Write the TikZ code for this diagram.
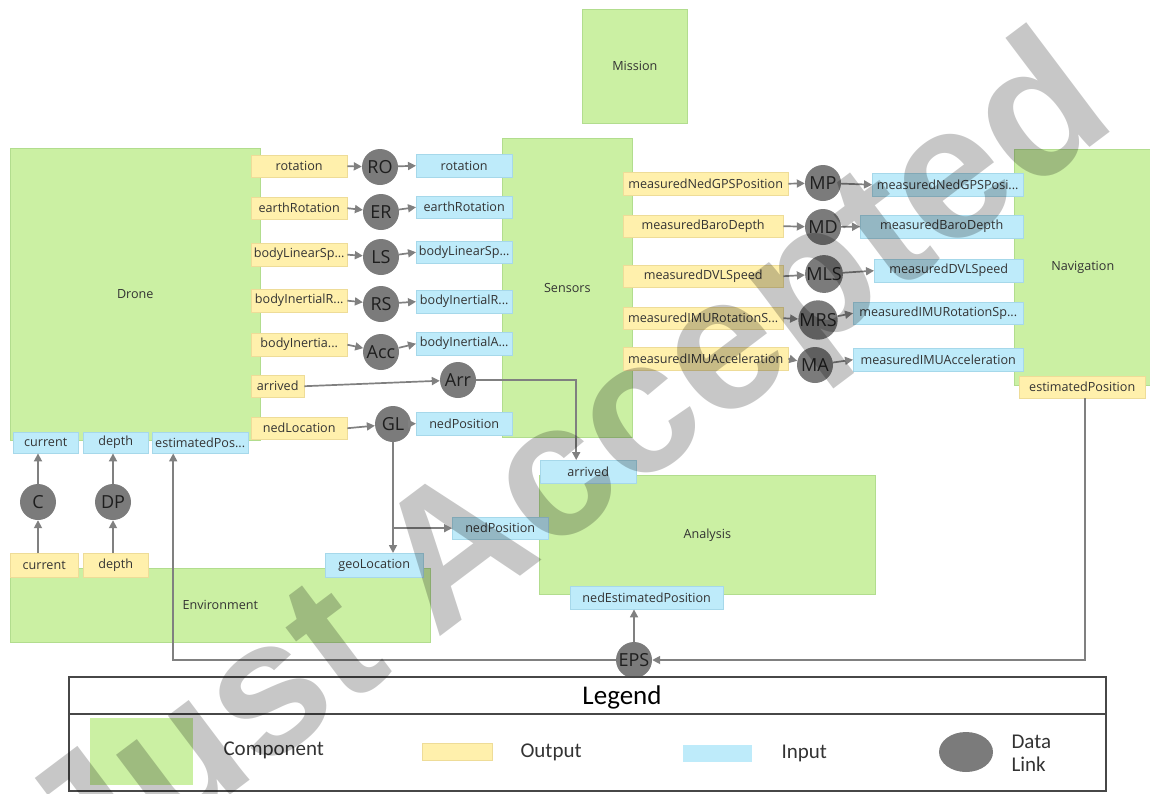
\documentclass[tikz,border=0pt]{standalone}
\usepackage{fontspec}
\setmainfont{Open Sans}
\newfontfamily\legfont{Carlito}
\newfontfamily\wmfont{Liberation Sans}
\usetikzlibrary{arrows.meta,calc,shapes.geometric}
\definecolor{cgreen}{HTML}{CBF0A3}
\definecolor{cgreenb}{HTML}{B2DD8E}
\definecolor{cyellow}{HTML}{FFF0AC}
\definecolor{cyellowb}{HTML}{EEDC98}
\definecolor{cblue}{HTML}{BEEBFA}
\definecolor{cblueb}{HTML}{A6D8EA}
\definecolor{cgray}{HTML}{7B7B7B}
\definecolor{carrow}{HTML}{808080}
\definecolor{ctext}{HTML}{333333}
\definecolor{ctextd}{HTML}{1E1E1E}
\definecolor{clegb}{HTML}{474747}
\newcommand\labf{\fontsize{12.6}{15}\selectfont}
\newcommand\linkf{\fontsize{18}{20}\selectfont}
\newcommand\legf{\legfont\fontsize{21}{23}\selectfont}
\tikzset{
  wh/.style n args={2}{minimum width=#1pt,minimum height=#2pt},
  comp/.style={fill=cgreen,draw=cgreenb,line width=0.6pt,inner sep=0pt,anchor=north west,font=\labf,text=ctext},
  outp/.style={fill=cyellow,draw=cyellowb,line width=0.4pt,inner sep=0pt,anchor=north west,font=\labf,text=ctext},
  inp/.style={fill=cblue,draw=cblueb,line width=0.4pt,inner sep=0pt,anchor=north west,font=\labf,text=ctext},
  dlink/.style={circle,fill=cgray,minimum size=36pt,inner sep=0pt,font=\linkf,text=ctextd},
  arr/.style={draw=carrow,line width=1.7pt,-{Triangle[length=8pt,width=8pt]}},
}
\begin{document}
\begin{tikzpicture}[x=1pt,y=-1pt]
\useasboundingbox (0,0) rectangle (1150,793);
% components
\node[comp,wh={105}{114}] (mission) at (582,9) {Mission};
\node[comp,wh={250}{292}] (drone) at (10,148) {Drone};
\node[comp,wh={130}{299}] (sensors) at (502,138) {Sensors};
\node[comp,wh={137}{236}] (nav) at (1014,149) {Navigation};
\node[comp,wh={336}{119}] (analysis) at (539,475) {Analysis};
\node[comp,wh={420}{74}] (env) at (10,568) {Environment};
% drone outputs
\node[outp,wh={96}{22}] (dRot) at (251,155) {rotation};
\node[outp,wh={96}{22}] (dEarth) at (251,197) {earthRotation};
\node[outp,wh={96}{23}] (dLin) at (251,243) {bodyLinearSp...};
\node[outp,wh={96}{23}] (dIR) at (251,289) {bodyInertialR...};
\node[outp,wh={96}{23}] (dIA) at (251,333) {bodyInertia...};
\node[outp,wh={53}{22}] (dArr) at (251,375) {arrived};
\node[outp,wh={96}{22}] (dNed) at (251,417) {nedLocation};
% drone inputs
\node[inp,wh={65}{21}] (dCur) at (13,432) {current};
\node[inp,wh={65}{21}] (dDep) at (83,432) {depth};
\node[inp,wh={96}{21}] (dEst) at (152,432) {estimatedPos...};
% sensor inputs
\node[inp,wh={96}{23}] (sRot) at (416,154) {rotation};
\node[inp,wh={96}{22}] (sEarth) at (416,196) {earthRotation};
\node[inp,wh={96}{22}] (sLin) at (416,241) {bodyLinearSp...};
\node[inp,wh={96}{23}] (sIR) at (416,290) {bodyInertialR...};
\node[inp,wh={96}{23}] (sIA) at (416,332) {bodyInertialA...};
\node[inp,wh={96}{23}] (sNed) at (416,412) {nedPosition};
% sensor outputs
\node[outp,wh={165}{23}] (sGPS) at (623,172) {measuredNedGPSPosition};
\node[outp,wh={160}{22}] (sBaro) at (623,215) {measuredBaroDepth};
\node[outp,wh={160}{22}] (sDVL) at (623,265) {measuredDVLSpeed};
\node[outp,wh={160}{22}] (sIMUR) at (623,307) {measuredIMURotationS...};
\node[outp,wh={165}{23}] (sIMUA) at (623,347) {measuredIMUAcceleration};
% navigation inputs / output
\node[inp,wh={151}{23}] (nGPS) at (872,173) {measuredNedGPSPosi...};
\node[inp,wh={163}{23}] (nBaro) at (860,215) {measuredBaroDepth};
\node[inp,wh={149}{23}] (nDVL) at (874,259) {measuredDVLSpeed};
\node[inp,wh={170}{22}] (nIMUR) at (853,302) {measuredIMURotationSp...};
\node[inp,wh={170}{23}] (nIMUA) at (853,348) {measuredIMUAcceleration};
\node[outp,wh={126}{22}] (nEst) at (1019,376) {estimatedPosition};
% analysis inputs
\node[inp,wh={96}{23}] (aArr) at (540,460) {arrived};
\node[inp,wh={96}{22}] (aNed) at (452,517) {nedPosition};
\node[inp,wh={153}{23}] (aEst) at (570,586) {nedEstimatedPosition};
% environment ports
\node[outp,wh={68}{24}] (eCur) at (10,553) {current};
\node[outp,wh={65}{24}] (eDep) at (83,553) {depth};
\node[inp,wh={98}{24}] (eGeo) at (325,553) {geoLocation};
% data links
\node[dlink] (RO) at (380,167) {RO};
\node[dlink] (ER) at (381,212) {ER};
\node[dlink] (LS) at (381,257) {LS};
\node[dlink] (RS) at (381,304) {RS};
\node[dlink] (Acc) at (381,352) {Acc};
\node[dlink] (Arr) at (458,380) {Arr};
\node[dlink] (GL) at (393,424) {GL};
\node[dlink] (MP) at (823,183) {MP};
\node[dlink] (MD) at (823,227) {MD};
\node[dlink] (MLS) at (824,274) {MLS};
\node[dlink] (MRS) at (818,320) {MRS};
\node[dlink] (MA) at (815,365) {MA};
\node[dlink] (C) at (38,502) {C};
\node[dlink] (DP) at (113,502) {DP};
\node[dlink] (EPS) at (634,660) {EPS};
% connectors
\foreach \a/\l/\b in {dRot/RO/sRot,dEarth/ER/sEarth,dLin/LS/sLin,dIR/RS/sIR,dIA/Acc/sIA,
  sGPS/MP/nGPS,sBaro/MD/nBaro,sDVL/MLS/nDVL,sIMUR/MRS/nIMUR,sIMUA/MA/nIMUA,dNed/GL/sNed}{
  \draw[arr] (\a.east) -- (\l);
  \draw[arr] (\l) -- (\b.west);
}
\draw[arr] (dArr.east) -- (Arr);
\draw[arr] (Arr.east) -| ([xshift=-12pt]aArr.north);
\draw[arr] (GL.south) -- (GL |- eGeo.north);
\draw[arr] (GL |- aNed.west) -- (aNed.west);
\draw[arr] (C |- eCur.north) -- (C.south);
\draw[arr] (C.north) -- (C |- dCur.south);
\draw[arr] (DP |- eDep.north) -- (DP.south);
\draw[arr] (DP.north) -- (DP |- dDep.south);
\draw[arr] ([xshift=3pt]nEst.south) |- (EPS.east);
\draw[arr] (EPS.north) -- (EPS |- aEst.south);
\draw[arr] (EPS.west) -| ([xshift=-27pt]dEst.south);
% legend
\node[draw=clegb,line width=1.5pt,inner sep=0pt,anchor=north west,wh={1037}{114}] (legbox) at (68,676) {};
\draw[clegb,line width=1.2pt] ([yshift=-38pt]legbox.north west) -- ([yshift=-38pt]legbox.north east);
\node[font=\legfont\fontsize{27}{30}\selectfont,text=black] (legtitle) at (622,697) {Legend};
\node[fill=cgreen,inner sep=0pt,anchor=north west,wh={103}{67}] (legcomp) at (90,718) {};
\node[font=\legf,text=ctext,anchor=west] (legcompt) at (220,750) {Component};
\node[fill=cyellow,draw=cyellowb,line width=0.4pt,inner sep=0pt,anchor=north west,wh={70}{17}] (legout) at (422,743) {};
\node[font=\legf,text=ctext,anchor=west] (legoutt) at (517,752) {Output};
\node[fill=cblue,inner sep=0pt,anchor=north west,wh={69}{17}] (legin) at (683,745) {};
\node[font=\legf,text=ctext,anchor=west] (legint) at (778,753) {Input};
\node[ellipse,fill=cgray,inner sep=0pt,wh={54}{40}] (leglink) at (966,752) {};
\node[font=\legf,text=ctext,anchor=west,align=left] (leglinkt) at (1008,753) {Data\\Link};
% watermark
\begin{scope}
\clip (0,0) rectangle (1150,793);
\node[rotate=37,font=\wmfont\bfseries\fontsize{190}{190}\selectfont,text=black,text opacity=0.22] (wm) at (572,476) {Just Accepted};
\end{scope}
\end{tikzpicture}
\end{document}
